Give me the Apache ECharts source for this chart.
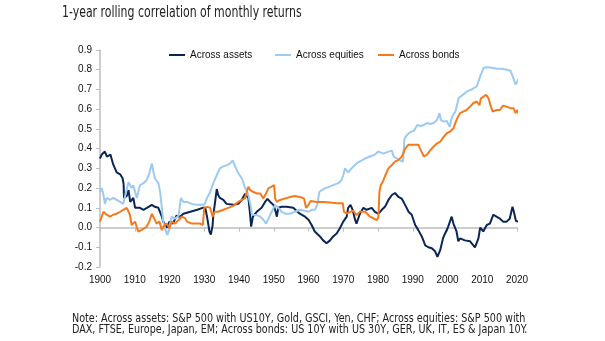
<!DOCTYPE html>
<html>
<head>
<meta charset="utf-8">
<script src="https://cdn.jsdelivr.net/npm/echarts@6/dist/echarts.min.js"></script>
<style>
html,body{margin:0;padding:0;background:#fff;}
#chart{width:605px;height:341px;}
</style>
</head>
<body>
<div id="chart"></div>
<script>
const titleText = '1-year rolling correlation of monthly returns';
const noteLines = [
  'Note: Across assets: S&P 500 with US10Y, Gold, GSCI, Yen, CHF; Across equities: S&P 500 with',
  'DAX, FTSE, Europe, Japan, EM; Across bonds: US 10Y with US 30Y, GER, UK, IT, ES & Japan 10Y.'
];
const seriesNames = ['Across assets', 'Across equities', 'Across bonds'];

const assetsYears = [1900,1900.5,1901,1901.4,1902,1902.5,1903,1903.8,1904.8,1905.8,1906.5,1906.8,1906.9,1907.7,1908.2,1908.7,1909.6,1910.1,1910.6,1911.5,1912.5,1913.5,1914.9,1915.8,1916.8,1917.3,1917.8,1918.2,1919.2,1920,1921,1922,1923,1924,1926,1928,1929.5,1930.3,1930.8,1931.5,1931.9,1932.4,1932.6,1933,1933.6,1934,1934.5,1935.5,1936.4,1938.4,1939.8,1940.8,1941.7,1942.2,1942.7,1943.2,1943.5,1944,1945.1,1946.5,1947.5,1948.2,1949,1949.9,1950.4,1950.9,1951.3,1952.3,1953.7,1955.6,1957.5,1959,1960,1960.9,1961.8,1963.3,1964.2,1965.2,1966.2,1967.1,1968.1,1969,1970,1971,1971.4,1972.1,1972.7,1973.4,1973.8,1974.8,1975.8,1976.7,1978.2,1979.1,1980.1,1981.1,1982,1983,1984,1984.9,1985.9,1986.9,1987.8,1988.8,1989.7,1990.7,1991.6,1992.6,1993.6,1994.5,1995.5,1996.4,1997.1,1997.9,1998.7,1999.3,2000,2000.7,2001.2,2001.7,2002.6,2003.1,2003.6,2005,2006.5,2007.9,2008.4,2008.9,2009.4,2010.3,2011.3,2012.2,2013.2,2014.1,2015.1,2016,2017,2017.9,2018.7,2019.1,2019.7,2020.6];
const assetsValues = [0.35,0.37,0.36,0.385,0.36,0.37,0.37,0.32,0.28,0.27,0.25,0.22,0.15,0.16,0.19,0.13,0.15,0.10,0.09,0.10,0.09,0.10,0.115,0.105,0.10,0.09,0.055,0.03,0.0,0.03,0.02,0.06,0.055,0.07,0.08,0.09,0.10,0.10,0.055,-0.02,-0.035,0.01,0.06,0.07,0.195,0.165,0.15,0.14,0.12,0.115,0.12,0.14,0.17,0.18,0.15,0.065,0.005,0.055,0.08,0.10,0.13,0.145,0.13,0.115,0.09,0.055,0.10,0.105,0.105,0.10,0.07,0.055,0.04,0.013,-0.02,-0.045,-0.065,-0.08,-0.065,-0.045,-0.03,-0.005,0.03,0.055,0.10,0.115,0.09,0.04,0.02,0.07,0.10,0.09,0.10,0.08,0.07,0.09,0.105,0.14,0.165,0.175,0.155,0.145,0.115,0.08,0.065,0.013,-0.013,-0.045,-0.09,-0.10,-0.105,-0.12,-0.148,-0.115,-0.055,-0.03,-0.005,0.03,0.055,0.02,-0.02,-0.07,-0.055,-0.065,-0.07,-0.10,-0.105,-0.055,0.0,-0.02,0.013,0.02,0.065,0.055,0.045,0.03,0.03,0.045,0.105,0.08,0.033,0.03];

const equitiesYears = [1900,1900.5,1901,1901.4,1901.9,1902.9,1903.8,1904.8,1905.8,1906.7,1907.5,1908.2,1908.6,1909.1,1909.6,1910.1,1910.6,1911,1911.5,1912.5,1913.4,1914.2,1914.9,1915.4,1915.8,1916.8,1917.3,1917.8,1918.2,1918.7,1919.4,1920,1920.6,1921.6,1922.6,1923.3,1924,1925,1926.4,1927.8,1928.8,1930,1930.8,1931.7,1932.6,1933.6,1934.5,1935.5,1936.4,1937.4,1938.2,1938.9,1939.8,1940.8,1941.7,1942.7,1943.4,1943.7,1944.2,1945.1,1946.1,1947,1947.8,1948.5,1949.4,1950.4,1951.3,1952.3,1953.3,1954.7,1956.1,1957.5,1959,1960,1960.9,1961.9,1962.6,1963.1,1963.8,1964.8,1965.7,1967.1,1968.6,1969.5,1970,1970.5,1971.4,1972.4,1972.9,1973.8,1974.8,1976.3,1977.7,1979.1,1980.1,1981.6,1983,1984,1984.5,1985.5,1986.4,1987.2,1987.6,1988.4,1989.4,1990.3,1991.3,1992.3,1993.2,1994.1,1995.1,1996,1997,1997.7,1998.1,1998.9,1999.8,2000.6,2001.3,2002.3,2003.2,2004.2,2005.6,2007,2008.4,2009.4,2010.4,2011.3,2012.8,2014.2,2015.7,2017.1,2018.1,2018.9,2019.6,2020.1,2020.6];
const equitiesValues = [0.18,0.2,0.165,0.12,0.15,0.14,0.15,0.14,0.13,0.12,0.18,0.23,0.225,0.20,0.215,0.18,0.15,0.18,0.215,0.225,0.24,0.275,0.325,0.28,0.25,0.225,0.18,0.10,0.03,-0.005,-0.038,0.004,0.055,0.045,0.06,0.15,0.13,0.13,0.12,0.115,0.115,0.115,0.15,0.18,0.225,0.265,0.30,0.31,0.315,0.325,0.34,0.31,0.275,0.25,0.205,0.165,0.105,0.065,0.055,0.063,0.055,0.04,0.02,0.045,0.08,0.115,0.10,0.08,0.07,0.07,0.08,0.09,0.085,0.08,0.09,0.09,0.12,0.18,0.19,0.20,0.205,0.215,0.225,0.24,0.265,0.30,0.28,0.30,0.29,0.325,0.335,0.35,0.36,0.37,0.385,0.375,0.385,0.39,0.36,0.35,0.34,0.335,0.45,0.47,0.485,0.49,0.52,0.515,0.52,0.53,0.525,0.53,0.545,0.58,0.545,0.537,0.54,0.51,0.56,0.59,0.655,0.67,0.69,0.70,0.715,0.765,0.81,0.813,0.81,0.805,0.805,0.80,0.795,0.76,0.725,0.74,0.76];

const bondsYears = [1900,1900.5,1901,1901.9,1902.9,1903.8,1904.8,1905.8,1906.7,1907.7,1908.2,1908.6,1909.1,1909.6,1910.1,1910.6,1911,1912,1912.5,1913.4,1914.2,1914.9,1915.6,1916.3,1917.1,1917.8,1918.2,1919.2,1920,1920.6,1921.6,1922.6,1923.5,1924.5,1925,1926.4,1927.8,1928.8,1929.6,1930,1930.8,1931.7,1932.4,1933,1934,1935.5,1936.9,1938.4,1939.8,1940.8,1941.7,1942.2,1942.7,1943.2,1944.2,1945.1,1946.1,1947,1947.8,1948.5,1949.4,1950.1,1950.4,1950.9,1951.8,1953.3,1954.7,1956.1,1957.5,1958.7,1959.3,1960,1960.6,1962.4,1964.2,1966.2,1968.1,1969.9,1970.2,1971,1972,1972.9,1973.8,1974.8,1976.3,1977.7,1978.7,1979.6,1980.1,1980.4,1980.8,1981.4,1982,1983,1984,1984.9,1985.9,1986.9,1987.8,1988.8,1989.7,1990.7,1991.6,1992.1,1993.2,1994.1,1995.1,1996,1997,1997.9,1998.9,1999.8,2000.7,2001.7,2002.6,2003.6,2004.5,2005.5,2006.5,2007.4,2008.4,2009.2,2009.6,2010.4,2011.1,2011.8,2012.5,2013,2014.2,2015.1,2016,2017,2018.1,2019,2019.6,2020.1,2020.6];
const bondsValues = [0.03,0.055,0.08,0.065,0.055,0.065,0.07,0.08,0.09,0.10,0.105,0.065,0.013,0.005,0.03,0.0,-0.02,-0.012,-0.004,0.004,0.03,0.07,0.045,0.02,0.03,-0.013,0.004,0.02,-0.004,0.03,0.02,0.038,0.055,0.048,0.03,0.02,0.02,0.02,0.013,0.10,0.105,0.10,0.055,0.08,0.08,0.09,0.10,0.11,0.13,0.14,0.148,0.155,0.207,0.19,0.18,0.173,0.173,0.148,0.173,0.20,0.207,0.215,0.148,0.13,0.14,0.148,0.155,0.16,0.155,0.148,0.10,0.115,0.135,0.13,0.13,0.127,0.123,0.123,0.08,0.07,0.08,0.085,0.063,0.08,0.08,0.055,0.047,0.038,0.05,0.18,0.215,0.233,0.26,0.30,0.317,0.334,0.343,0.36,0.40,0.42,0.42,0.42,0.42,0.40,0.36,0.37,0.393,0.41,0.427,0.435,0.46,0.478,0.486,0.503,0.546,0.58,0.588,0.596,0.613,0.63,0.639,0.62,0.655,0.664,0.673,0.655,0.613,0.588,0.596,0.596,0.618,0.613,0.605,0.605,0.58,0.596,0.57];

const colors = ['#0b2556', '#9dcaf0', '#f57a1c'];

function zip(xs, ys) { return xs.map((x, i) => [x, ys[i]]); }

const chart = echarts.init(document.getElementById('chart'), null, {renderer: 'canvas'});
const font = 'Liberation Sans, Arial, sans-serif';
const narrow = 'Liberation Sans Narrow, Arial Narrow, DejaVu Sans Condensed, sans-serif';

const legendDefaults = {
  top: 45, icon: 'rect', itemWidth: 16, itemHeight: 2,
  itemStyle: {borderWidth: 0},
  textStyle: {fontFamily: font, fontSize: 10, color: '#111'}
};

chart.setOption({
  animation: false,
  backgroundColor: '#fff',
  color: colors,
  legend: [
    Object.assign({}, legendDefaults, {data: [seriesNames[0]], left: 164}),
    Object.assign({}, legendDefaults, {data: [seriesNames[1]], left: 270}),
    Object.assign({}, legendDefaults, {data: [seriesNames[2]], left: 373})
  ],
  grid: {left: 100, right: 88, top: 50, bottom: 74},
  xAxis: [
    {
      type: 'value', min: 1900, max: 2020, interval: 10, position: 'bottom',
      axisLine: {show: false, onZero: false}, axisTick: {show: false}, splitLine: {show: false},
      axisLabel: {fontFamily: font, fontSize: 10, color: '#111', margin: 8, formatter: v => String(v)}
    },
    {
      type: 'value', min: 1900, max: 2020, interval: 10, position: 'top',
      axisLine: {show: true, onZero: true, lineStyle: {color: '#bdbdbd', width: 1.5}},
      axisTick: {show: true, inside: true, length: 4, lineStyle: {color: '#bdbdbd'}},
      axisLabel: {show: false}, splitLine: {show: false}
    }
  ],
  yAxis: {
    type: 'value', min: -0.2, max: 0.9, interval: 0.1,
    axisLine: {show: true, lineStyle: {color: '#bdbdbd', width: 1.5}},
    axisTick: {show: true, length: 4, lineStyle: {color: '#bdbdbd'}},
    splitLine: {show: false},
    axisLabel: {fontFamily: font, fontSize: 10, color: '#111', margin: 8, formatter: v => v.toFixed(1)}
  },
  graphic: [
    {
      type: 'text', x: 62, y: 5, scaleX: 0.76, scaleY: 1,
      style: {text: titleText, font: '16px ' + narrow, fill: '#222', textVerticalAlign: 'top'}
    }
  ].concat(noteLines.map((t, i) => ({
    type: 'text', x: 72, y: 312.5 + i * 11.5, scaleX: 0.89, scaleY: 1,
    style: {text: t, font: '12px ' + narrow, fill: '#222', textVerticalAlign: 'top'}
  }))),
  series: [
    {name: seriesNames[0], type: 'line', xAxisIndex: 0, data: zip(assetsYears, assetsValues), symbol: 'none', clip: false, lineStyle: {width: 2, color: colors[0]}, itemStyle: {color: colors[0]}},
    {name: seriesNames[1], type: 'line', xAxisIndex: 0, data: zip(equitiesYears, equitiesValues), symbol: 'none', clip: false, lineStyle: {width: 2, color: colors[1]}, itemStyle: {color: colors[1]}},
    {name: seriesNames[2], type: 'line', xAxisIndex: 0, data: zip(bondsYears, bondsValues), symbol: 'none', clip: false, lineStyle: {width: 2, color: colors[2]}, itemStyle: {color: colors[2]}}
  ]
});
</script>
</body>
</html>
